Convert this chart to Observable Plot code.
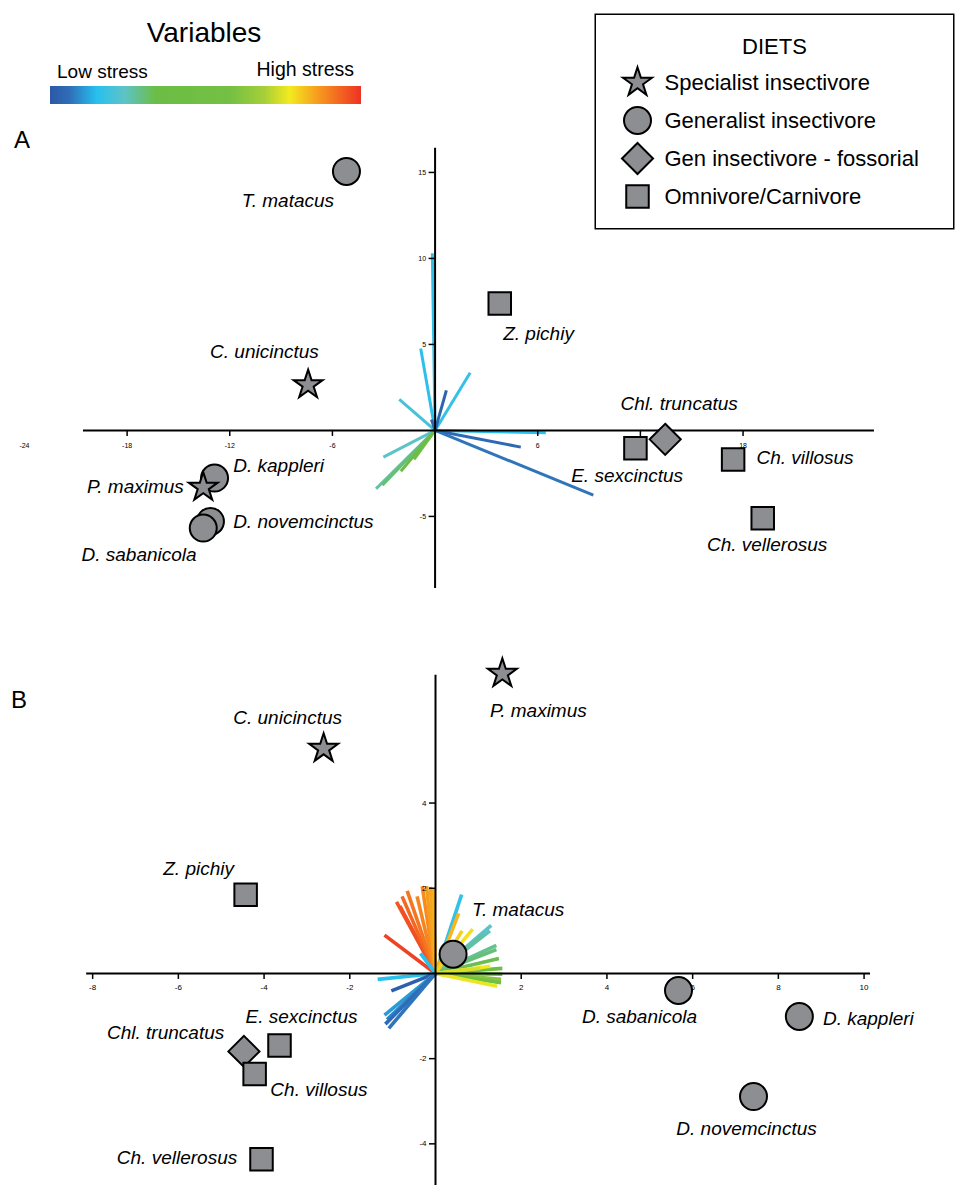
<!DOCTYPE html>
<html><head><meta charset="utf-8">
<script src="https://cdn.jsdelivr.net/npm/d3@7"></script>
<script src="https://cdn.jsdelivr.net/npm/@observablehq/plot@0.6"></script>
<style>
body{margin:0;background:#fff;font-family:"Liberation Sans",Arial,sans-serif;}
#page{position:relative;width:966px;height:1200px;overflow:hidden;background:#fff;}
#page > *{position:absolute;}
</style></head><body><div id="page"></div>
<script>
// ---------- DATA ----------
const diets = ["Specialist insectivore","Generalist insectivore","Gen insectivore - fossorial","Omnivore/Carnivore"];
const species = ["T. matacus","Z. pichiy","C. unicinctus","D. kappleri","P. maximus","D. novemcinctus","D. sabanicola","Chl. truncatus","E. sexcinctus","Ch. villosus","Ch. vellerosus"];
const speciesDiet = [1,3,0,1,0,1,1,2,3,3,3];

// Panel A scores
const scoreA_x = [-5.18, 3.78, -7.42, -12.89, -13.55, -13.13, -13.55, 13.45, 11.71, 17.42, 19.15];
const scoreA_y = [15.06, 7.38, 2.65, -2.77, -3.31, -5.29, -5.68, -0.52, -1.03, -1.69, -5.10];
// Panel B scores
const scoreB_x = [0.41, -4.43, -2.61, 8.49, 1.56, 7.42, 5.67, -4.47, -3.64, -4.22, -4.06];
const scoreB_y = [0.45, 1.85, 5.28, -1.01, 7.04, -2.89, -0.40, -1.83, -1.69, -2.36, -4.36];

// Panel A variable loadings (stress 0 = low, 1 = high)
const varA_x = [-0.16, -0.84, 2.05, 0.66, -2.09, 6.47, 5.01, 9.25, -3.02, -3.45, -3.08, -2.00, -1.23, -0.21];
const varA_y = [10.3, 4.77, 3.35, 2.33, 1.80, -0.14, -0.97, -3.76, -1.55, -3.39, -3.18, -2.37, -1.69, 0.64];
const varA_stress = [0.16, 0.16, 0.17, 0.03, 0.20, 0.15, 0.05, 0.07, 0.24, 0.27, 0.30, 0.36, 0.40, 0.03];

// Panel B variable loadings
const varB_x = [-1.19,-0.91,-0.83,-0.78,-0.66,-0.43,-0.31,-0.21,-0.12,-0.05,-0.35, 0.61,0.54,0.62,0.87,1.30,1.27,1.13,1.42,1.42,1.48,1.56,1.56,1.53,1.53,1.44,1.28,1.05,0.27, -1.35,-1.03,-1.19,-1.13,-1.17,-1.09];
const varB_y = [0.90,1.68,1.58,1.81,1.94,1.81,2.05,2.05,2.03,1.99,0.47, 1.85,1.41,1.00,1.04,1.13,1.00,0.92,0.66,0.56,0.35,0.12,-0.02,-0.14,-0.22,-0.30,0.17,0.12,0.39, -0.14,-0.41,-0.98,-1.08,-1.19,-1.29];
const varB_stress = [0.98,0.95,0.96,0.93,0.91,0.89,0.88,0.86,0.85,0.84,0.15, 0.17,0.83,0.80,0.78,0.23,0.25,0.27,0.28,0.30,0.33,0.40,0.45,0.62,0.50,0.76,0.77,0.74,0.80, 0.15,0.02,0.11,0.09,0.06,0.07];

// Tick labels
const ticksA_x = [-24, -18, -12, -6, 6, 12, 18];
const ticksA_y = [15, 10, 5, -5];
const ticksB_x = [-8, -6, -4, -2, 2, 4, 6, 8, 10];
const ticksB_y = [4, 2, -2, -4];

// Stress colour ramp
const stressStops = [0, 0.06, 0.15, 0.24, 0.34, 0.58, 0.69, 0.77, 0.87, 1];
const stressColors = ["#2b59a7","#2f6cb6","#27c0ef","#5ec3c6","#6cbd45","#74c044","#a7cf39","#f3ea1f","#f7941e","#ee3224"];

// ---------- LAYOUT ----------
const dietSymbols = ["star","circle","diamond2","square"];
const dietR = [9.1, 13.5, 14, 12.7];
const fill = "#8c8e91";
const font = "'Liberation Sans', Arial, sans-serif";

const panelA = {top: 120, height: 490, xDomain: [-25.40, 31.06], yDomain: [-10.47, 18.02], vecWidth: 3,
  axisX: [-20.55, 25.68], axisY: [-9.19, 16.4], tickX: 6/17.2, tickY: 6/17.11, tickFont: 7, tickDy: 15, tickDx: -9};
const panelB = {top: 610, height: 590, xDomain: [-10.15, 12.39], yDomain: [-5.33, 8.52], vecWidth: 3.6,
  axisX: [-8.14, 10.15], axisY: [-4.98, 7.0], tickX: 6/42.6, tickY: 6/42.85, tickFont: 8, tickDy: 14, tickDx: -9};

const labelA = [
  {a:"middle", dx:-58.5, dy:29}, {a:"start", dx:3.4, dy:30}, {a:"middle", dx:-43.7, dy:-32.7},
  {a:"start", dx:18.7, dy:-11.7}, {a:"end", dx:-19.4, dy:0}, {a:"start", dx:22.7, dy:0.7},
  {a:"middle", dx:-64.2, dy:26.3}, {a:"middle", dx:14, dy:-35}, {a:"middle", dx:-8.3, dy:28},
  {a:"start", dx:23.3, dy:-1.7}, {a:"middle", dx:4.4, dy:26.3}
];
const labelB = [
  {a:"start", dx:19, dy:-44}, {a:"middle", dx:-47, dy:-26}, {a:"middle", dx:-36, dy:-31},
  {a:"start", dx:23.6, dy:2}, {a:"middle", dx:36, dy:37}, {a:"middle", dx:-7, dy:32},
  {a:"middle", dx:-39, dy:26}, {a:"middle", dx:-78.3, dy:-18.3}, {a:"middle", dx:22, dy:-28.3},
  {a:"start", dx:15.7, dy:16}, {a:"end", dx:-24.3, dy:-1.7}
];

// ---------- BUILD ----------
const page = document.getElementById("page");

function makePanel(cfg, sx, sy, vx, vy, vs, tx, ty, labels) {
  const pts = species.map((name, i) => ({name, x: sx[i], y: sy[i], diet: diets[speciesDiet[i]], r: dietR[speciesDiet[i]]}));
  const vecs = vx.map((x, i) => ({x, y: vy[i], s: vs[i]}));
  const inX = d => d >= cfg.axisX[0] && d <= cfg.axisX[1];
  const marks = [
    Plot.link(vecs, {x1: 0, y1: 0, x2: "x", y2: "y", stroke: "s", strokeWidth: cfg.vecWidth}),
    Plot.ruleY([0], {x1: cfg.axisX[0], x2: cfg.axisX[1], stroke: "black", strokeWidth: 2}),
    Plot.ruleX([0], {y1: cfg.axisY[0], y2: cfg.axisY[1], stroke: "black", strokeWidth: 2}),
    Plot.ruleX(tx.filter(inX), {x: d => d, y1: 0, y2: -cfg.tickX, stroke: "black", strokeWidth: 1.5}),
    Plot.ruleY(ty, {y: d => d, x1: 0, x2: -cfg.tickY, stroke: "black", strokeWidth: 1.5}),
    Plot.text(tx, {x: d => d, y: 0, dy: cfg.tickDy, text: d => String(d), fontSize: cfg.tickFont, fill: "black"}),
    Plot.text(ty, {x: 0, y: d => d, dx: cfg.tickDx, text: d => String(d), textAnchor: "end", fontSize: cfg.tickFont, fill: "black"}),
    Plot.dot(pts, {x: "x", y: "y", symbol: "diet", r: "r", fill, stroke: "black", strokeWidth: 2, sort: null}),
    ...pts.map((d, i) => Plot.text([d], {x: "x", y: "y", text: "name", dx: labels[i].dx, dy: labels[i].dy,
        textAnchor: labels[i].a, fontSize: 19, fontStyle: "italic", fill: "black"}))
  ];
  const svg = Plot.plot({
    width: 966, height: cfg.height, margin: 0,
    style: {fontFamily: font, background: "transparent", overflow: "visible"},
    x: {domain: cfg.xDomain, axis: null},
    y: {domain: cfg.yDomain, axis: null},
    r: {type: "identity"},
    color: {type: "linear", domain: stressStops, range: stressColors},
    symbol: {domain: diets, range: dietSymbols},
    marks
  });
  svg.style.left = "0px";
  svg.style.top = cfg.top + "px";
  page.appendChild(svg);
}

makePanel(panelA, scoreA_x, scoreA_y, varA_x, varA_y, varA_stress, ticksA_x, ticksA_y, labelA);
makePanel(panelB, scoreB_x, scoreB_y, varB_x, varB_y, varB_stress, ticksB_x, ticksB_y, labelB);

// Diet legend
const dietLegend = Plot.plot({
  width: 360, height: 216, margin: 0,
  style: {fontFamily: font, background: "white", overflow: "visible"},
  y: {type: "point", domain: diets, range: [67.7, 183.7], padding: 0, axis: null},
  r: {type: "identity"},
  symbol: {domain: diets, range: dietSymbols},
  marks: [
    Plot.frame({stroke: "black", strokeWidth: 1.5, inset: 0.75}),
    Plot.text(["DIETS"], {frameAnchor: "top", dy: 25, text: d => d, fontSize: 22, fill: "black"}),
    Plot.dot(diets, {y: d => d, symbol: d => d, r: (d, i) => dietR[i], frameAnchor: "left", dx: 43, fill, stroke: "black", strokeWidth: 2}),
    Plot.text(diets, {y: d => d, text: d => d, frameAnchor: "left", dx: 70, textAnchor: "start", fontSize: 22, fill: "black"})
  ]
});
dietLegend.style.left = "594px";
dietLegend.style.top = "13px";
page.appendChild(dietLegend);

// Colour ramp legend + panel letters
const ns = "http://www.w3.org/2000/svg";
const rampSvg = document.createElementNS(ns, "svg");
rampSvg.setAttribute("width", 420); rampSvg.setAttribute("height", 120);
rampSvg.style.left = "0px"; rampSvg.style.top = "0px";
const gradStops = stressStops.map((s, i) => `<stop offset="${s*100}%" stop-color="${stressColors[i]}"/>`).join("");
rampSvg.innerHTML = `<defs><linearGradient id="ramp" x1="0" x2="1" y1="0" y2="0">${gradStops}</linearGradient></defs>
<text x="204" y="42" text-anchor="middle" font-size="28" font-family="${font}">Variables</text>
<text x="57" y="78" font-size="19" font-family="${font}">Low stress</text>
<text x="354" y="76" text-anchor="end" font-size="19.5" font-family="${font}">High stress</text>
<rect x="50" y="86" width="311" height="18" fill="url(#ramp)"/>`;
page.appendChild(rampSvg);

function letter(t, x, y) {
  const s = document.createElementNS(ns, "svg");
  s.setAttribute("width", 40); s.setAttribute("height", 40);
  s.style.left = x + "px"; s.style.top = y + "px";
  s.innerHTML = `<text x="2" y="30" font-size="24" font-family="${font}">${t}</text>`;
  page.appendChild(s);
}
letter("A", 12, 118);
letter("B", 9, 678);
</script></body></html>
